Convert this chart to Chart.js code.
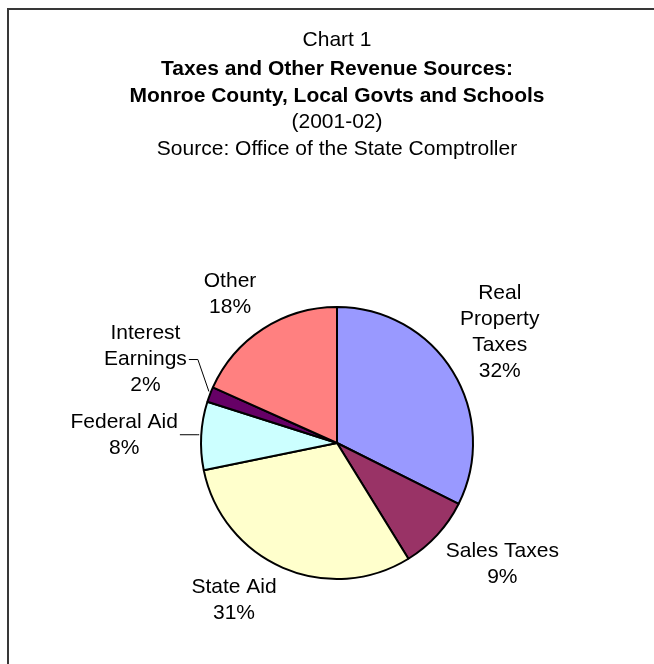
<!DOCTYPE html>
<html>
<head>
<meta charset="utf-8">
<script src="https://cdn.jsdelivr.net/npm/chart.js@4"></script>
<style>
  html, body { margin: 0; padding: 0; background: #ffffff; }
  #wrap { width: 654px; height: 664px; }
</style>
</head>
<body>
<div id="wrap"><canvas id="c" width="654" height="664"></canvas></div>
<script>
// ---- data ----
const categories = ["Real Property Taxes", "Sales Taxes", "State Aid", "Federal Aid", "Interest Earnings", "Other"];
const labelLines = [["Real", "Property", "Taxes"], ["Sales Taxes"], ["State Aid"], ["Federal Aid"], ["Interest", "Earnings"], ["Other"]];
const shares = [32.4, 8.8, 30.6, 8.1, 1.8, 18.3];
const shareLabels = ["32%", "9%", "31%", "8%", "2%", "18%"];
const sliceColors = ["#9999FF", "#993366", "#FFFFCC", "#CCFFFF", "#660066", "#FF8080"];
const titleLines = ["Chart 1", "Taxes and Other Revenue Sources:", "Monroe County, Local Govts and Schools", "(2001-02)", "Source: Office of the State Comptroller"];

// ---- layout (not data) ----
const FONT = '"Liberation Sans", Arial, Helvetica, sans-serif';
const titleY = [40.5, 69, 96, 122, 149];
const titleBold = [false, true, true, false, false];
const labelOffset = [[47, -39], [65, 29], [-49, 32], [-77, -1], [-64.5, -35], [-33, -35]];
// leader: [horizontal run, end dx, end dy] relative to slice edge midpoint
const leaderSpec = [null, null, null, [18, -2, -1], [9, -1, -3], null];
const LINE_H = 26;

const overlay = {
  id: 'overlay',
  beforeDraw(chart) {
    const ctx = chart.ctx;
    ctx.save();
    ctx.fillStyle = '#ffffff';
    ctx.fillRect(0, 0, chart.width, chart.height);
    ctx.strokeStyle = '#383838';
    ctx.lineWidth = 2;
    ctx.beginPath();
    ctx.moveTo(8, 664);
    ctx.lineTo(8, 9);
    ctx.lineTo(654, 9);
    ctx.stroke();
    ctx.restore();
  },
  afterDraw(chart) {
    const ctx = chart.ctx;
    ctx.save();
    ctx.fillStyle = '#000000';
    ctx.textAlign = 'center';
    ctx.textBaseline = 'middle';
    titleLines.forEach((t, i) => {
      ctx.font = (titleBold[i] ? 'bold ' : '') + '21px ' + FONT;
      ctx.fillText(t, 337, titleY[i]);
    });
    ctx.font = '21px ' + FONT;
    const meta = chart.getDatasetMeta(0);
    meta.data.forEach((arc, i) => {
      const p = arc.getProps(['x', 'y', 'startAngle', 'endAngle', 'outerRadius'], true);
      const mid = (p.startAngle + p.endAngle) / 2;
      const ex = p.x + Math.cos(mid) * p.outerRadius;
      const ey = p.y + Math.sin(mid) * p.outerRadius;
      const cx = ex + labelOffset[i][0];
      const cy = ey + labelOffset[i][1];
      const lines = labelLines[i].concat([shareLabels[i]]);
      const y0 = cy - (lines.length - 1) * LINE_H / 2;
      let maxW = 0;
      lines.forEach((ln, k) => {
        ctx.fillText(ln, cx, y0 + k * LINE_H);
        maxW = Math.max(maxW, ctx.measureText(ln).width);
      });
      const ls = leaderSpec[i];
      if (ls) {
        const sx = cx + maxW / 2 + 2;
        ctx.strokeStyle = '#000000';
        ctx.lineWidth = 1;
        ctx.beginPath();
        ctx.moveTo(sx, cy);
        ctx.lineTo(sx + ls[0], cy);
        ctx.lineTo(ex + ls[1], ey + ls[2]);
        ctx.stroke();
      }
    });
    ctx.restore();
  }
};

new Chart(document.getElementById('c'), {
  type: 'pie',
  data: {
    labels: categories,
    datasets: [{
      data: shares,
      backgroundColor: sliceColors,
      borderColor: '#000000',
      borderWidth: 2
    }]
  },
  options: {
    responsive: false,
    devicePixelRatio: 1,
    animation: false,
    layout: { padding: { left: 200, right: 180, top: 306, bottom: 84 } },
    plugins: { legend: { display: false }, tooltip: { enabled: false }, title: { display: false } }
  },
  plugins: [overlay]
});
</script>
</body>
</html>
